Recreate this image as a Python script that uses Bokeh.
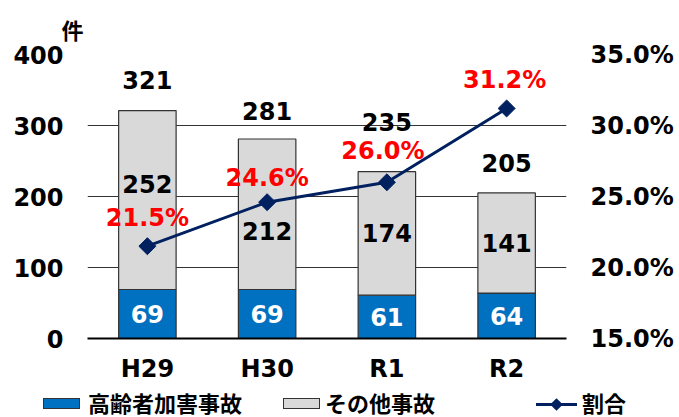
from bokeh.plotting import figure
from bokeh.layouts import column
from bokeh.models import (ColumnDataSource, FactorRange, Range1d, LinearAxis, FixedTicker,
                          NumeralTickFormatter, LabelSet, Div)
from bokeh.embed import file_html
from bokeh.resources import INLINE
from bokeh.core.properties import value

# ---- data ----
years = ["H29", "H30", "R1", "R2"]
elderly = [69, 69, 61, 64]          # 高齢者加害事故
other = [252, 212, 174, 141]        # その他事故
ratio = [0.215, 0.246, 0.260, 0.312]  # 割合
left_ticks = [0, 100, 200, 300, 400]
right_ticks = [0.15, 0.20, 0.25, 0.30, 0.35]
legend_labels = ["高齢者加害事故", "その他事故", "割合"]
unit_label = "件"

# ---- label placement (screen px offsets) ----
total_dy = [31, 28, 50, 30]
other_dy = [16, -17, 0, 0]
ratio_dy = [28, 24, 31, 28]
ratio_dx = [0, 0, -4, -2]

NUMFONT = "DejaVu Sans"
JPFONT = "Noto Sans CJK JP"
BLUE = "#0070C0"
GRAY = "#D9D9D9"
NAVY = "#002060"

totals = [a + b for a, b in zip(elderly, other)]
src = ColumnDataSource(dict(
    years=years, elderly=elderly, other=other, ratio=ratio, totals=totals,
    elderly_mid=[e / 2 for e in elderly],
    other_mid=[e + o / 2 for e, o in zip(elderly, other)],
    total_txt=[str(t) for t in totals],
    elderly_txt=[str(v) for v in elderly],
    other_txt=[str(v) for v in other],
    ratio_txt=["{:.1f}%".format(r * 100) for r in ratio],
    total_dy=total_dy, other_dy=other_dy, ratio_dy=ratio_dy, ratio_dx=ratio_dx,
))

p = figure(x_range=FactorRange(*years, range_padding=0), y_range=Range1d(0, 400),
           frame_width=479, frame_height=284, output_backend="svg", toolbar_location=None,
           min_border_left=87, min_border_right=113, min_border_top=54, min_border_bottom=52,
           outline_line_color=None)
p.extra_y_ranges = {"pct": Range1d(0.15, 0.35)}

# unit label as title
p.title.text = unit_label
p.title.align = "left"
p.title.offset = -26
p.title.standoff = 19
p.title.text_font = JPFONT
p.title.text_font_size = "22px"
p.title.text_font_style = "bold"
p.title.text_color = "black"

p.vbar_stack(["elderly", "other"], x="years", width=0.48, source=src,
             color=[BLUE, GRAY], line_color="#333333", line_width=1.2)

p.line("years", "ratio", source=src, y_range_name="pct", color=NAVY, line_width=3)
p.scatter("years", "ratio", source=src, y_range_name="pct", marker="square",
          angle=0.785398, size=12, color=NAVY)

def style_axis(ax, standoff):
    ax.axis_line_color = None
    ax.major_tick_line_color = None
    ax.minor_tick_line_color = None
    ax.major_tick_out = 0
    ax.major_tick_in = 0
    ax.minor_tick_out = 0
    ax.major_label_standoff = standoff
    ax.major_label_text_font = NUMFONT
    ax.major_label_text_font_size = "24px"
    ax.major_label_text_font_style = "bold"
    ax.major_label_text_color = "black"

p.yaxis.ticker = FixedTicker(ticks=left_ticks)
style_axis(p.yaxis[0], 24)

ax2 = LinearAxis(y_range_name="pct", ticker=FixedTicker(ticks=right_ticks),
                 formatter=NumeralTickFormatter(format="0.0%"))
style_axis(ax2, 24)
p.add_layout(ax2, "right")

style_axis(p.xaxis[0], 16)
p.xaxis.axis_line_color = "black"
p.xaxis.axis_line_width = 2

p.xgrid.grid_line_color = None
p.ygrid.grid_line_color = "#333333"
p.ygrid.grid_line_width = 1
p.ygrid.ticker = FixedTicker(ticks=left_ticks)

common = dict(source=src, text_font=value(NUMFONT), text_font_size="24px", text_font_style="bold",
              text_align="center", text_baseline="middle")
p.add_layout(LabelSet(x="years", y="totals", text="total_txt", y_offset="total_dy",
                      text_color="black", **common))
p.add_layout(LabelSet(x="years", y="other_mid", text="other_txt", y_offset="other_dy",
                      text_color="black", **common))
p.add_layout(LabelSet(x="years", y="elderly_mid", text="elderly_txt",
                      text_color="white", **common))
p.add_layout(LabelSet(x="years", y="ratio", text="ratio_txt", y_range_name="pct",
                      x_offset="ratio_dx", y_offset="ratio_dy", text_color="#FF0000", **common))

# ---- legend row (below the chart) ----
box = "position:absolute;top:8px;width:37px;height:11px;border:1px solid #333;"
txt = "position:absolute;top:-1px;line-height:26px;white-space:nowrap;"
legend_html = (
    f"<div style=\"position:relative;width:679px;height:27px;font-family:'{JPFONT}',sans-serif;"
    f"font-weight:bold;font-size:22px;color:#000;\">"
    f"<span style=\"{box}left:43px;background:{BLUE};\"></span>"
    f"<span style=\"{txt}left:88px;\">{legend_labels[0]}</span>"
    f"<span style=\"{box}left:283px;background:{GRAY};\"></span>"
    f"<span style=\"{txt}left:325px;\">{legend_labels[1]}</span>"
    f"<span style=\"position:absolute;left:536px;top:13px;width:41px;height:3px;background:{NAVY};\"></span>"
    f"<span style=\"position:absolute;left:552px;top:10px;width:9px;height:9px;background:{NAVY};"
    f"transform:rotate(45deg);\"></span>"
    f"<span style=\"{txt}left:582px;\">{legend_labels[2]}</span>"
    f"</div>"
)
legend_div = Div(text=legend_html, width=679, height=27, margin=0)

layout = column(p, legend_div, spacing=0)
open("out.html", "w").write(file_html(layout, INLINE))
